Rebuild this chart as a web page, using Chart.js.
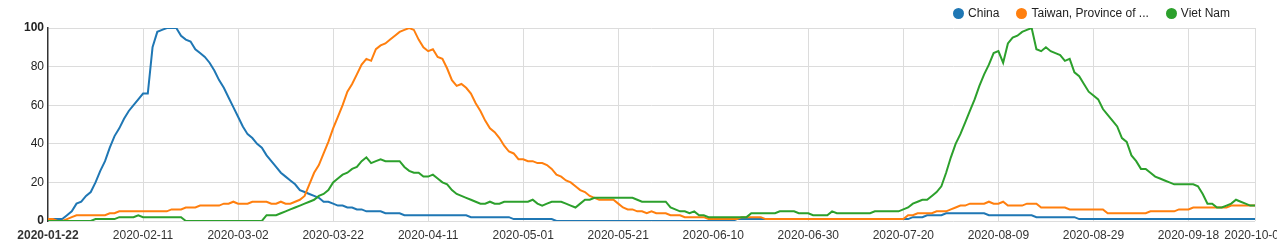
<!DOCTYPE html>
<html>
<head>
<meta charset="utf-8">
<script src="https://cdn.jsdelivr.net/npm/chart.js@4.4.1/dist/chart.umd.min.js"></script>
<style>
    html, body { margin: 0; padding: 0; background: #fff; overflow: hidden; }
    #wrap { position: relative; width: 1286px; height: 247px; }
    #legend {
        position: absolute; top: 5px; right: 56px;
        display: flex; font: 12px "Liberation Sans", Arial, sans-serif; color: #222;
        line-height: 16px;
    }
    .item { display: flex; align-items: center; margin-left: 17px; }
    .dot { width: 11px; height: 11px; border-radius: 50%; margin-right: 4px; }
</style>
</head>
<body>
<div id="wrap">
    <canvas id="chart" width="1277" height="247"></canvas>
    <div id="legend"></div>
</div>
<script>
// === DATA ===
const START_DATE = '2020-01-22';
const SERIES_NAMES = ['China', 'Taiwan, Province of ...', 'Viet Nam'];
const SERIES_COLORS = ['#1f77b4', '#ff7f0e', '#2ca02c'];
const Y_TICKS = [0, 20, 40, 60, 80, 100];

const china = [
    1, 1, 1, 1, 3, 5, 9, 10, 13, 15, 20, 26, 31, 38, 44, 48, 53, 57, 60, 63,
    66, 66, 90, 98, 99, 100, 100, 100, 96, 94, 93, 89, 87, 85, 82, 78, 73, 69, 64, 59,
    54, 49, 45, 43, 40, 38, 34, 31, 28, 25, 23, 21, 19, 16, 15, 14, 13, 12, 10, 10,
    9, 8, 8, 7, 7, 6, 6, 5, 5, 5, 5, 4, 4, 4, 4, 3, 3, 3, 3, 3,
    3, 3, 3, 3, 3, 3, 3, 3, 3, 2, 2, 2, 2, 2, 2, 2, 2, 2, 1, 1,
    1, 1, 1, 1, 1, 1, 1, 0, 0, 0, 0, 0, 0, 0, 0, 0, 0, 0, 0, 0,
    0, 0, 0, 0, 0, 0, 0, 0, 0, 0, 0, 0, 0, 0, 0, 0, 0, 0, 0, 0,
    0, 0, 0, 0, 0, 1, 1, 1, 1, 1, 1, 1, 1, 1, 1, 1, 1, 1, 1, 1,
    1, 1, 1, 1, 1, 1, 1, 1, 1, 1, 1, 1, 1, 1, 1, 1, 1, 1, 1, 1,
    1, 1, 2, 2, 2, 3, 3, 3, 3, 4, 4, 4, 4, 4, 4, 4, 4, 4, 3, 3,
    3, 3, 3, 3, 3, 3, 3, 3, 2, 2, 2, 2, 2, 2, 2, 2, 2, 1, 1, 1,
    1, 1, 1, 1, 1, 1, 1, 1, 1, 1, 1, 1, 1, 1, 1, 1, 1, 1, 1, 1,
    1, 1, 1, 1, 1, 1, 1, 1, 1, 1, 1, 1, 1, 1, 1
];

const taiwan = [
    1, 1, 0, 0, 1, 2, 3, 3, 3, 3, 3, 3, 3, 4, 4, 5, 5, 5, 5, 5,
    5, 5, 5, 5, 5, 5, 6, 6, 6, 7, 7, 7, 8, 8, 8, 8, 8, 9, 9, 10,
    9, 9, 9, 10, 10, 10, 10, 9, 9, 10, 9, 9, 10, 11, 13, 19, 25, 29, 35, 41,
    48, 54, 60, 67, 71, 76, 81, 84, 83, 89, 91, 92, 94, 96, 98, 99, 100, 99, 94, 90,
    88, 89, 85, 84, 79, 73, 70, 71, 69, 66, 61, 57, 52, 48, 46, 43, 39, 36, 35, 32,
    32, 31, 31, 30, 30, 29, 27, 24, 23, 21, 20, 18, 16, 15, 13, 12, 11, 11, 11, 11,
    9, 7, 6, 6, 5, 5, 4, 5, 4, 4, 4, 3, 3, 3, 2, 2, 2, 2, 2, 1,
    1, 1, 1, 1, 1, 1, 2, 2, 2, 2, 2, 1, 1, 1, 1, 1, 1, 1, 1, 1,
    1, 1, 1, 1, 1, 1, 1, 1, 1, 1, 1, 1, 1, 1, 1, 1, 1, 1, 1, 1,
    1, 3, 3, 4, 4, 4, 4, 5, 5, 5, 6, 7, 8, 8, 9, 9, 9, 9, 10, 9,
    9, 10, 8, 8, 8, 8, 9, 9, 9, 7, 7, 7, 7, 7, 7, 6, 6, 6, 6, 6,
    6, 6, 6, 4, 4, 4, 4, 4, 4, 4, 4, 4, 5, 5, 5, 5, 5, 5, 6, 6,
    6, 7, 7, 7, 7, 7, 7, 7, 7, 8, 8, 8, 8, 8, 8
];

const vietnam = [
    0, 0, 0, 0, 0, 0, 0, 0, 0, 0, 1, 1, 1, 1, 1, 2, 2, 2, 2, 3,
    2, 2, 2, 2, 2, 2, 2, 2, 2, 0, 0, 0, 0, 0, 0, 0, 0, 0, 0, 0,
    0, 0, 0, 0, 0, 0, 3, 3, 3, 4, 5, 6, 7, 8, 9, 10, 11, 13, 14, 16,
    20, 22, 24, 25, 27, 28, 31, 33, 30, 31, 32, 31, 31, 31, 31, 28, 26, 25, 25, 23,
    23, 24, 22, 20, 19, 16, 14, 13, 12, 11, 10, 9, 9, 10, 9, 9, 10, 10, 10, 10,
    10, 10, 11, 9, 8, 9, 10, 10, 10, 9, 8, 7, 9, 11, 11, 12, 12, 12, 12, 12,
    12, 12, 12, 12, 11, 10, 10, 10, 10, 10, 10, 7, 6, 5, 5, 4, 5, 3, 3, 2,
    2, 2, 2, 2, 2, 2, 2, 2, 4, 4, 4, 4, 4, 4, 5, 5, 5, 5, 4, 4,
    4, 3, 3, 3, 3, 5, 4, 4, 4, 4, 4, 4, 4, 4, 5, 5, 5, 5, 5, 5,
    6, 7, 9, 10, 11, 11, 13, 15, 18, 25, 33, 40, 45, 51, 57, 63, 70, 76, 81, 87,
    88, 82, 92, 95, 96, 98, 99, 100, 89, 88, 90, 88, 87, 86, 83, 84, 77, 75, 71, 67,
    65, 63, 58, 55, 52, 49, 43, 41, 34, 31, 27, 27, 25, 23, 22, 21, 20, 19, 19, 19,
    19, 19, 18, 14, 9, 9, 7, 7, 8, 9, 11, 10, 9, 8, 8
];

// daily categories, one per value
const dates = [];
(function () {
    const d = new Date(START_DATE + 'T00:00:00Z');
    for (let i = 0; i < china.length; i++) {
        dates.push(d.toISOString().slice(0, 10));
        d.setUTCDate(d.getUTCDate() + 1);
    }
})();

const LAST = dates.length - 1;
const FONT = '"Liberation Sans", Arial, sans-serif';

// === LEGEND (html) ===
const legendEl = document.getElementById('legend');
SERIES_NAMES.forEach((name, i) => {
    const item = document.createElement('div');
    item.className = 'item';
    const dot = document.createElement('span');
    dot.className = 'dot';
    dot.style.background = SERIES_COLORS[i];
    const txt = document.createElement('span');
    txt.textContent = name;
    item.appendChild(dot);
    item.appendChild(txt);
    legendEl.appendChild(item);
});

// === CHART ===
const seriesData = [china, taiwan, vietnam];
const ctx = document.getElementById('chart').getContext('2d');

new Chart(ctx, {
    type: 'line',
    data: {
        labels: dates,
        datasets: SERIES_NAMES.map((name, i) => ({
            label: name,
            data: seriesData[i],
            borderColor: SERIES_COLORS[i],
            backgroundColor: SERIES_COLORS[i],
            borderWidth: 2,
            pointRadius: 0,
            tension: 0,
            fill: false,
            order: SERIES_NAMES.length - 1 - i   // later series on top
        }))
    },
    options: {
        responsive: false,
        animation: false,
        layout: { padding: { top: 28, right: 22, left: 0, bottom: 0 } },
        plugins: {
            legend: { display: false },
            tooltip: { enabled: false }
        },
        scales: {
            x: {
                border: { display: false },
                grid: {
                    drawTicks: false,
                    color: c => (c.index > 0 && c.index < LAST) ? '#dcdcdc' : 'rgba(0,0,0,0)'
                },
                ticks: {
                    autoSkip: false,
                    maxRotation: 0,
                    minRotation: 0,
                    padding: 7,
                    color: '#333',
                    font: c => ({
                        family: FONT,
                        size: 12,
                        weight: (c.index === 0 || c.index === LAST) ? 'bold' : 'normal'
                    }),
                    callback: (v, i) => (i % 20 === 0 || i === LAST) ? dates[i] : null
                },
                afterFit: s => {
                    s.height = 26;
                    s.paddingLeft = 0;
                    s.paddingRight = 0;
                }
            },
            y: {
                min: Y_TICKS[0],
                max: Y_TICKS[Y_TICKS.length - 1],
                border: { color: '#333', width: 1.5 },
                grid: { drawTicks: false, color: '#dcdcdc' },
                ticks: {
                    stepSize: Y_TICKS[1] - Y_TICKS[0],
                    padding: 4,
                    color: '#222',
                    font: c => ({
                        family: FONT,
                        size: 12,
                        weight: (c.tick && (c.tick.value === 0 || c.tick.value === 100)) ? 'bold' : 'normal'
                    })
                },
                afterFit: s => { s.width = 48; }
            }
        }
    }
});
</script>
</body>
</html>
